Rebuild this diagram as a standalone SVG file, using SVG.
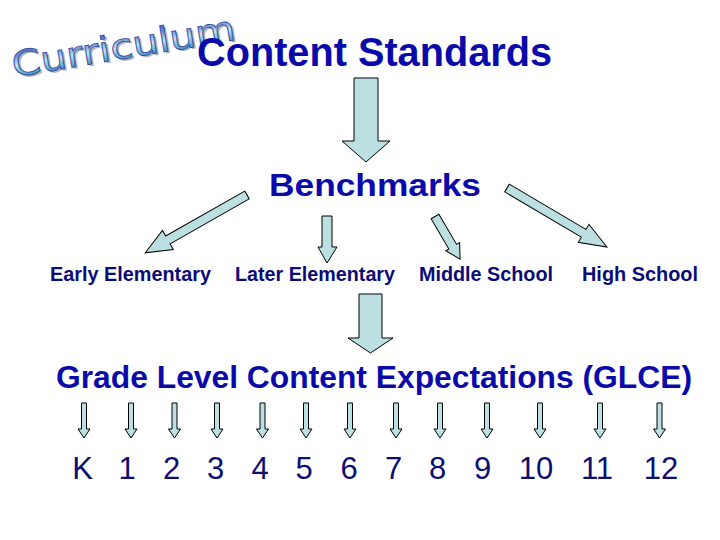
<svg xmlns="http://www.w3.org/2000/svg" width="720" height="540" viewBox="0 0 720 540">
<defs>
<style>
.t{font-family:"Liberation Sans",Arial,sans-serif;font-weight:bold}
.h{fill:#0a0aaa}
.l{fill:#0b0b78;font-size:19.5px}
.g{font-family:"Liberation Sans",Arial,sans-serif;font-size:31px;fill:#0e0e72;text-anchor:middle}
.ar{fill:#bcdfe2;stroke:#000;stroke-width:1;stroke-linejoin:miter}
.wa{font-family:"DejaVu Sans",Verdana,sans-serif;font-size:35px}
</style>
<linearGradient id="wg" x1="0" y1="0" x2="0" y2="1">
<stop offset="0" stop-color="#3050b0"/>
<stop offset="0.3" stop-color="#6c94d8"/>
<stop offset="0.52" stop-color="#c4ecf6"/>
<stop offset="0.72" stop-color="#5cb4da"/>
<stop offset="1" stop-color="#2c48a8"/>
</linearGradient>
<path id="sa" class="ar" d="M-2.5,0H2.5V26H6L0,35L-6,26H-2.5Z"/>
</defs>
<rect width="720" height="540" fill="#fff"/>

<g id="curriculum">
<text class="wa" x="16" y="79" textLength="226" lengthAdjust="spacingAndGlyphs" transform="rotate(-9.5 14 77)" fill="#b4b4bc">Curriculum</text>
<text class="wa" x="14" y="77" textLength="226" lengthAdjust="spacingAndGlyphs" transform="rotate(-9.5 14 77)" fill="url(#wg)" stroke="#3a4e9c" stroke-width="0.9">Curriculum</text>
</g>

<g id="content-standards">
<text class="t h" x="197" y="66" font-size="40" textLength="355" lengthAdjust="spacingAndGlyphs">Content Standards</text>
</g>

<g id="benchmarks">
<text class="t h" x="269" y="196" font-size="32" textLength="212" lengthAdjust="spacingAndGlyphs">Benchmarks</text>
</g>

<g id="early-elementary"><text class="t l" x="50" y="281" textLength="161" lengthAdjust="spacingAndGlyphs">Early Elementary</text></g>
<g id="later-elementary"><text class="t l" x="235" y="281" textLength="160" lengthAdjust="spacingAndGlyphs">Later Elementary</text></g>
<g id="middle-school"><text class="t l" x="419" y="281" textLength="134" lengthAdjust="spacingAndGlyphs">Middle School</text></g>
<g id="high-school"><text class="t l" x="582" y="281" textLength="116" lengthAdjust="spacingAndGlyphs">High School</text></g>

<g id="glce">
<text class="t h" x="56" y="388" font-size="31.5" textLength="636" lengthAdjust="spacingAndGlyphs">Grade Level Content Expectations (GLCE)</text>
</g>

<g id="grades">
<text class="g" x="82.5" y="479">K</text>
<text class="g" x="127" y="479">1</text>
<text class="g" x="171.5" y="479">2</text>
<text class="g" x="215.5" y="479">3</text>
<text class="g" x="260" y="479">4</text>
<text class="g" x="304" y="479">5</text>
<text class="g" x="349" y="479">6</text>
<text class="g" x="393.5" y="479">7</text>
<text class="g" x="437.5" y="479">8</text>
<text class="g" x="482.5" y="479">9</text>
<text class="g" x="536" y="479">10</text>
<text class="g" x="597" y="479">11</text>
<text class="g" x="661" y="479">12</text>
</g>

<g id="connectors">
<polygon class="ar" points="354,78 378,78 378,141 390,141 366,162 342,141 354,141"/>
<polygon class="ar" transform="translate(247,195) rotate(60.4)" points="-4.5,0 4.5,0 4.5,91 11,91 0,117 -11,91 -4.5,91"/>
<polygon class="ar" points="322,216 332,216 332,247 337,247 327,263 318,247 322,247"/>
<polygon class="ar" transform="translate(435,216.5) rotate(-30.4)" points="-4.5,0 4.5,0 4.5,35 8,35 0,49.5 -8,35 -4.5,35"/>
<polygon class="ar" transform="translate(507,188) rotate(-59.4)" points="-4.5,0 4.5,0 4.5,89 10.5,89 0,116 -10.5,89 -4.5,89"/>
<polygon class="ar" points="359,294 382,294 382,338 393,338 370.5,353 348,338 359,338"/>
<use href="#sa" x="84" y="403"/>
<use href="#sa" x="131" y="403"/>
<use href="#sa" x="174.5" y="403"/>
<use href="#sa" x="217" y="403"/>
<use href="#sa" x="262.5" y="403"/>
<use href="#sa" x="306" y="403"/>
<use href="#sa" x="350" y="403"/>
<use href="#sa" x="396" y="403"/>
<use href="#sa" x="440" y="403"/>
<use href="#sa" x="487" y="403"/>
<use href="#sa" x="540" y="403"/>
<use href="#sa" x="600" y="403"/>
<use href="#sa" x="659.5" y="403"/>
</g>
</svg>
